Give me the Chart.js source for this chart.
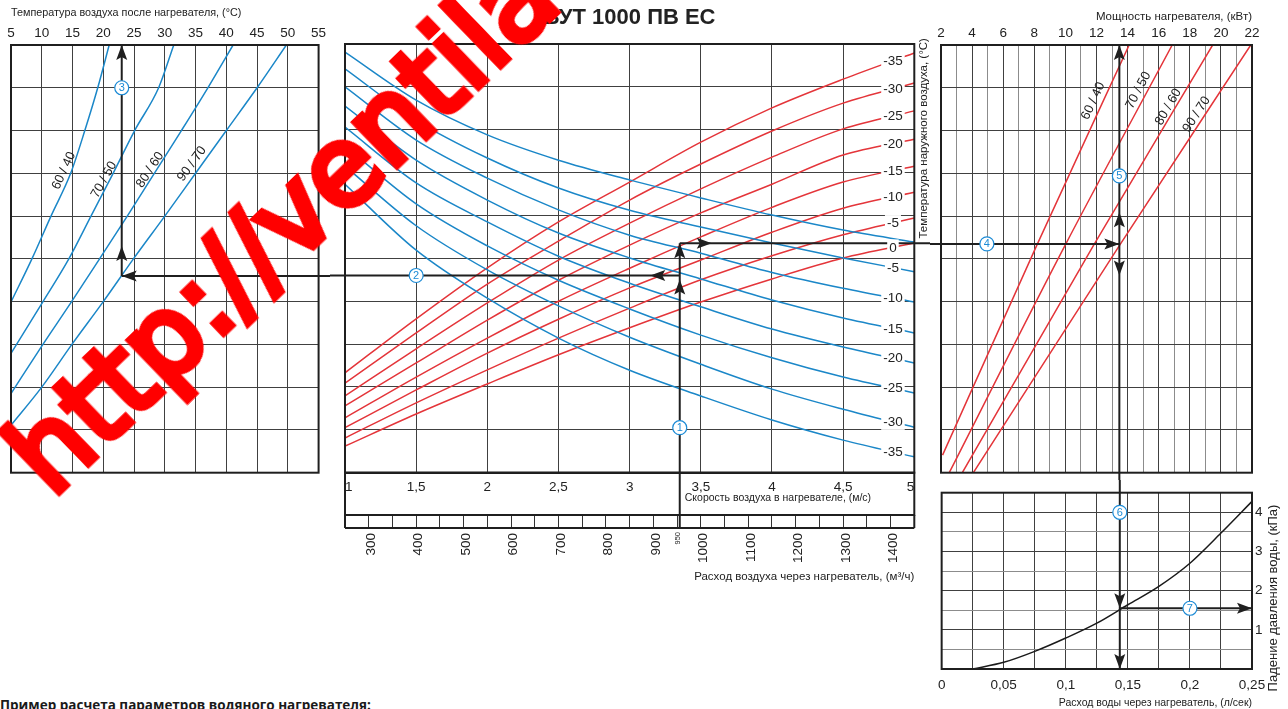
<!DOCTYPE html>
<html lang="ru">
<head>
<meta charset="utf-8">
<title>ВУТ 1000 ПВ ЕС</title>
<script src="https://cdn.jsdelivr.net/npm/chart.js"></script>
<style>
  html, body { margin:0; padding:0; background:#fff; }
  body { position:relative; width:1288px; height:709px; overflow:hidden; }
  canvas { position:absolute; display:block; }
  #panelAfter { left:0; top:0; }
  #panelMain { left:330px; top:0; }
  #panelPower { left:930px; top:0; }
  #panelPressure { left:930px; top:480px; }
  #note { position:absolute; left:0; top:696px; font:bold 13.5px 'Open Sans','DejaVu Sans',sans-serif; color:#1a1a1a; white-space:nowrap; }
  #watermark { position:absolute; left:52px; top:406px; font:110px 'DejaVu Sans',sans-serif; line-height:1; color:#ff0000;
               -webkit-text-stroke:7px #ff0000; white-space:nowrap; transform-origin:0 93px; transform:rotate(-44deg);
               pointer-events:none; z-index:5; }
</style>
</head>
<body>
<canvas id="panelAfter" width="330" height="480"></canvas>
<canvas id="panelMain" width="600" height="590"></canvas>
<canvas id="panelPower" width="358" height="480"></canvas>
<canvas id="panelPressure" width="358" height="229"></canvas>
<div id="note">Пример расчета параметров водяного нагревателя:</div>
<div id="watermark">http://ventila</div>
<script>
// ================= DATA =================
// Centre panel: air velocity (m/s) / airflow (m³/h); vertical = unlabelled nomogram rows 0..10
const velocityTicks  = [1, 1.5, 2, 2.5, 3, 3.5, 4, 4.5, 5];
const velocityPoints = [1, 1.5, 2, 2.5, 3, 3.5, 4, 4.5, 5];
const airflowTicks   = [300, 400, 500, 600, 700, 800, 900, 1000, 1100, 1200, 1300, 1400];
const airflowRange   = [245, 1444];

// Outside air temperature curves – red family (°C labels)
const redLabels = ['-35', '-30', '-25', '-20', '-15', '-10', '-5', '0'];
const red_m35 = [2.33, 3.59, 4.78, 5.85, 6.78, 7.71, 8.51, 9.18, 9.79];
const red_m30 = [2.09, 3.26, 4.40, 5.40, 6.36, 7.20, 7.97, 8.62, 9.09];
const red_m25 = [1.79, 2.89, 3.96, 4.96, 5.82, 6.62, 7.36, 8.02, 8.44];
const red_m20 = [1.56, 2.56, 3.56, 4.49, 5.31, 6.06, 6.73, 7.41, 7.78];
const red_m15 = [1.28, 2.23, 3.14, 4.00, 4.77, 5.50, 6.19, 6.78, 7.15];
const red_m10 = [1.05, 1.93, 2.79, 3.58, 4.31, 4.96, 5.61, 6.17, 6.54];
const red_m5  = [0.81, 1.63, 2.40, 3.14, 3.84, 4.50, 5.06, 5.55, 5.94];
const red_0   = [0.62, 1.37, 2.07, 2.75, 3.38, 3.98, 4.52, 5.01, 5.36];

// Outside air temperature curves – blue family
const blueLabels = ['0', '-5', '-10', '-15', '-20', '-25', '-30', '-35'];
const blue_0   = [9.81, 8.69, 7.88, 7.29, 6.83, 6.41, 6.01, 5.66, 5.38];
const blue_m5  = [9.42, 8.22, 7.34, 6.64, 6.12, 5.73, 5.36, 5.01, 4.69];
const blue_m10 = [9.00, 7.76, 6.87, 6.13, 5.54, 5.12, 4.67, 4.30, 3.98];
const blue_m15 = [8.55, 7.29, 6.36, 5.59, 5.01, 4.52, 4.03, 3.61, 3.26];
const blue_m20 = [8.06, 6.76, 5.85, 5.05, 4.42, 3.87, 3.35, 2.93, 2.56];
const blue_m25 = [7.62, 6.27, 5.29, 4.49, 3.82, 3.21, 2.68, 2.23, 1.86];
const blue_m30 = [7.15, 5.76, 4.73, 3.89, 3.16, 2.53, 1.95, 1.48, 1.06];
const blue_m35 = [6.73, 5.19, 4.07, 3.14, 2.39, 1.79, 1.23, 0.76, 0.37];

// Left panel: air temperature after heater (°C) per water regime
const afterTempTicks = [5, 10, 15, 20, 25, 30, 35, 40, 45, 50, 55];
const regimes = ['60 / 40', '70 / 50', '80 / 60', '90 / 70'];
const after6040_level = [3.99, 5, 6, 7, 8, 9, 10];
const after6040_temp  = [5.0, 8.4, 11.5, 14.7, 17.0, 19.1, 20.96];
const after7050_level = [2.79, 4, 5, 6, 7, 8, 9, 10];
const after7050_temp  = [5.0, 10.2, 14.4, 18.0, 21.6, 25.1, 29.0, 31.46];
const after8060_level = [1.85, 2.96, 4, 5, 6, 7, 8, 9, 10];
const after8060_temp  = [5.0, 10.0, 14.85, 19.4, 23.9, 28.3, 32.7, 37.0, 41.1];
const after9070_level = [1.11, 2, 3, 4, 5, 6, 7, 8, 9, 10];
const after9070_temp  = [5.0, 10.0, 14.9, 20.0, 24.9, 30.0, 35.0, 40.0, 45.0, 49.76];

// Right-top panel: heater power (kW) per water regime
const powerTicks = [2, 4, 6, 8, 10, 12, 14, 16, 18, 20, 22];
const power6040_level = [0.41, 5.31, 10];
const power6040_kw    = [2.1, 8.15, 14.1];
const power7050_level = [0, 5.31, 10];
const power7050_kw    = [2.53, 9.97, 16.87];
const power8060_level = [0, 5.31, 10];
const power8060_kw    = [3.37, 11.8, 19.47];
const power9070_level = [0, 5.31, 10];
const power9070_kw    = [4.08, 13.47, 21.92];

// Right-bottom panel: water pressure drop (kPa) vs water flow (l/s)
const waterFlowTicks = [0, 0.05, 0.1, 0.15, 0.2, 0.25];
const pressureTicks  = [1, 2, 3, 4];
const waterFlow    = [0.025, 0.05, 0.075, 0.1, 0.125, 0.15, 0.175, 0.2, 0.225, 0.25];
const pressureDrop = [0, 0.17, 0.45, 0.79, 1.17, 1.64, 2.11, 2.7, 3.47, 4.28];

// Worked example path
const exAirflow = 950, exLevelIn = 4.6, exLevelOut = 5.35, exTempAfter = 23;
const exPower = 13.47, exWaterFlow = 0.1435, exPressure = 1.55;

// ================= STYLE / HELPERS =================
const FONT = "'Liberation Sans', Arial, Helvetica, sans-serif";
Chart.defaults.font.family = FONT;
Chart.defaults.font.size = 13.5;
Chart.defaults.color = '#222';
const INK = '#1f1f1f', GRID = '#404040', GRID_LIGHT = '#8c8c8c';
const BLUE = '#1b87c8', RED = '#e4353a', MARK = '#1c8bd6';

const comma = v => String(Math.round(v * 1000) / 1000).replace('.', ',');
const pts = (xs, ys) => xs.map((x, i) => ({x: x, y: ys[i]}));
const near = (v, list) => list.some(t => Math.abs(t - v) < 1e-6);
function lineDS(xs, ys, color) {
  return {data: pts(xs, ys), borderColor: color, borderWidth: 1.5, pointRadius: 0, fill: false,
          cubicInterpolationMode: 'monotone', xAxisID: 'x', yAxisID: 'y'};
}
function interp(xs, ys, x) {
  for (let i = 0; i < xs.length - 1; i++) {
    if (x >= xs[i] && x <= xs[i + 1]) { const t = (x - xs[i]) / (xs[i + 1] - xs[i]); return ys[i] + t * (ys[i + 1] - ys[i]); }
  }
  return ys[ys.length - 1];
}
function seg(ctx, x1, y1, x2, y2, w, c) {
  ctx.save(); ctx.strokeStyle = c || INK; ctx.lineWidth = w || 2;
  ctx.beginPath(); ctx.moveTo(x1, y1); ctx.lineTo(x2, y2); ctx.stroke(); ctx.restore();
}
function head(ctx, x, y, dir) {
  const L = 15, H = 5.5;
  ctx.save(); ctx.fillStyle = INK; ctx.beginPath(); ctx.moveTo(x, y);
  if (dir === 'up') { ctx.lineTo(x - H, y + L); ctx.lineTo(x, y + L - 3); ctx.lineTo(x + H, y + L); }
  else if (dir === 'down') { ctx.lineTo(x - H, y - L); ctx.lineTo(x, y - L + 3); ctx.lineTo(x + H, y - L); }
  else if (dir === 'left') { ctx.lineTo(x + L, y - H); ctx.lineTo(x + L - 3, y); ctx.lineTo(x + L, y + H); }
  else { ctx.lineTo(x - L, y - H); ctx.lineTo(x - L + 3, y); ctx.lineTo(x - L, y + H); }
  ctx.closePath(); ctx.fill(); ctx.restore();
}
function badge(ctx, x, y, t) {
  ctx.save(); ctx.beginPath(); ctx.arc(x, y, 7, 0, Math.PI * 2);
  ctx.fillStyle = '#fff'; ctx.fill(); ctx.lineWidth = 1.2; ctx.strokeStyle = MARK; ctx.stroke();
  ctx.fillStyle = MARK; ctx.font = '11px ' + FONT; ctx.textAlign = 'center'; ctx.textBaseline = 'middle';
  ctx.fillText(t, x, y + 0.5); ctx.restore();
}
function frame(ctx, a) {
  ctx.save(); ctx.strokeStyle = INK; ctx.lineWidth = 2;
  ctx.strokeRect(a.left, a.top, a.right - a.left, a.bottom - a.top); ctx.restore();
}
function rotText(ctx, text, x, y, deg, font, align) {
  ctx.save(); ctx.translate(x, y); ctx.rotate(deg * Math.PI / 180);
  ctx.font = font; ctx.fillStyle = '#222'; ctx.textAlign = align || 'center'; ctx.textBaseline = 'middle';
  ctx.fillText(text, 0, 0); ctx.restore();
}
function boxedLabel(ctx, text, x, y) {
  ctx.save(); ctx.font = '13.5px ' + FONT;
  const w = ctx.measureText(text).width;
  ctx.fillStyle = '#fff'; ctx.fillRect(x - w / 2 - 2, y - 8, w + 4, 16);
  ctx.fillStyle = '#222'; ctx.textAlign = 'center'; ctx.textBaseline = 'middle';
  ctx.fillText(text, x, y + 0.5); ctx.restore();
}
const common = {
  responsive: false, animation: false, events: [],
  plugins: {legend: {display: false}, tooltip: {enabled: false}}
};
const hiddenLevelAxis = (min, max, step) => ({
  type: 'linear', min: min, max: max,
  ticks: {display: false, stepSize: step},
  grid: {color: GRID, lineWidth: 1, drawTicks: false},
  border: {display: false},
  afterFit: s => { s.width = 0; }
});

// ================= LEFT PANEL =================
new Chart(document.getElementById('panelAfter'), {
  type: 'line',
  data: {datasets: [
    lineDS(after6040_temp, after6040_level, BLUE),
    lineDS(after7050_temp, after7050_level, BLUE),
    lineDS(after8060_temp, after8060_level, BLUE),
    lineDS(after9070_temp, after9070_level, BLUE)
  ]},
  options: Object.assign({}, common, {
    layout: {padding: {left: 11, right: 11, top: 0, bottom: 7.3}},
    scales: {
      x: {type: 'linear', position: 'top', min: afterTempTicks[0], max: afterTempTicks[afterTempTicks.length - 1],
          ticks: {stepSize: 5, padding: 3.9, callback: v => near(v, afterTempTicks) ? String(v) : ''},
          grid: {color: GRID, lineWidth: 1, drawTicks: false}, border: {display: false},
          title: {display: true, text: 'Температура воздуха после нагревателя, (°C)', align: 'start',
                  font: {family: FONT, size: 10.8}, color: '#222', padding: {top: 6.5, bottom: 0}},
          afterFit: s => { s.height = 45; }},
      y: hiddenLevelAxis(0, 10, 1)
    }
  }),
  plugins: [{
    id: 'afterDecor',
    afterDatasetsDraw(chart) {
      const {ctx, chartArea: a, scales: {x, y}} = chart;
      const labelPos = [[13.6, 7.06, -65], [20.1, 6.85, -61], [27.6, 7.08, -57], [34.4, 7.22, -54]];
      regimes.forEach((r, i) => rotText(ctx, r, x.getPixelForValue(labelPos[i][0]), y.getPixelForValue(labelPos[i][1]), labelPos[i][2], '13px ' + FONT));
      const xa = x.getPixelForValue(exTempAfter), yIn = y.getPixelForValue(exLevelIn);
      seg(ctx, chart.width, yIn, xa, yIn);
      seg(ctx, xa, yIn, xa, a.top);
      head(ctx, xa, yIn, 'left');
      head(ctx, xa, y.getPixelForValue(5.3), 'up');
      head(ctx, xa, a.top, 'up');
      frame(ctx, a);
      badge(ctx, xa, y.getPixelForValue(9), '3');
    }
  }]
});

// ================= CENTRE PANEL =================
const redSeries  = [red_m35, red_m30, red_m25, red_m20, red_m15, red_m10, red_m5, red_0];
const blueSeries = [blue_0, blue_m5, blue_m10, blue_m15, blue_m20, blue_m25, blue_m30, blue_m35];
new Chart(document.getElementById('panelMain'), {
  type: 'line',
  data: {datasets: [
    ...blueSeries.map(s => lineDS(velocityPoints, s, BLUE)),
    ...redSeries.map(s => lineDS(velocityPoints, s, RED))
  ]},
  options: Object.assign({}, common, {
    layout: {padding: {left: 15, right: 15.7, top: 0, bottom: 0}},
    plugins: {legend: {display: false}, tooltip: {enabled: false},
      title: {display: true, text: 'ВУТ 1000 ПВ ЕС', color: '#222',
              font: {family: FONT, size: 22, weight: 'bold'}, padding: {top: 5, bottom: 12.6}}},
    scales: {
      x: {type: 'linear', position: 'bottom', weight: 0, min: 1, max: 5,
          ticks: {stepSize: 0.5, align: 'inner', padding: 6.2, callback: v => near(v, velocityTicks) ? comma(v) : ''},
          grid: {color: GRID, lineWidth: 1, drawTicks: false},
          border: {display: true, color: INK, width: 2},
          afterFit: s => { s.height = 42.3; }},
      airflow: {type: 'linear', axis: 'x', position: 'bottom', weight: 1, min: airflowRange[0], max: airflowRange[1],
          ticks: {stepSize: 50, autoSkip: false, includeBounds: false, maxRotation: 0, padding: 5, callback: () => ''},
          grid: {drawOnChartArea: false, drawTicks: true, tickLength: 13, color: '#333', lineWidth: 1},
          border: {display: true, color: INK, width: 2},
          title: {display: true, text: 'Расход воздуха через нагреватель, (м³/ч)', align: 'end',
                  font: {family: FONT, size: 11.5}, color: '#222', padding: {top: 0, bottom: 5.8}},
          afterFit: s => { s.height = 75; }},
      y: hiddenLevelAxis(0, 10, 1)
    }
  }),
  plugins: [{
    id: 'mainDecor',
    afterDatasetsDraw(chart) {
      const {ctx, chartArea: a, scales: {x, y, airflow}} = chart;
      const xe = airflow.getPixelForValue(exAirflow);
      const yIn = y.getPixelForValue(exLevelIn), yOut = y.getPixelForValue(exLevelOut);
      const stripBottom = airflow.top + 13;
      // example path
      seg(ctx, xe, stripBottom, xe, yOut);
      seg(ctx, xe, yIn, 0, yIn);
      seg(ctx, xe, yOut, chart.width, yOut);
      head(ctx, xe, yIn + 4, 'up');
      head(ctx, xe, yOut, 'up');
      head(ctx, xe - 29.5, yIn, 'left');
      head(ctx, xe + 32, yOut, 'right');
      // curve labels (outside air temperature)
      const vl = 4.85, xl = x.getPixelForValue(vl);
      redSeries.forEach((s, i) => boxedLabel(ctx, redLabels[i], xl, y.getPixelForValue(interp(velocityPoints, s, vl))));
      blueSeries.forEach((s, i) => { if (i > 0) boxedLabel(ctx, blueLabels[i], xl, y.getPixelForValue(interp(velocityPoints, s, vl))); });
      // frames
      frame(ctx, a);
      ctx.save(); ctx.strokeStyle = INK; ctx.lineWidth = 2;
      ctx.strokeRect(a.left, a.bottom, a.right - a.left, x.bottom - a.bottom);
      ctx.beginPath(); ctx.moveTo(a.left, stripBottom); ctx.lineTo(a.right, stripBottom);
      ctx.moveTo(a.left, x.bottom); ctx.lineTo(a.left, stripBottom);
      ctx.moveTo(a.right, x.bottom); ctx.lineTo(a.right, stripBottom); ctx.stroke(); ctx.restore();
      // airflow tick labels (rotated, reading upwards)
      airflowTicks.forEach(v => rotText(ctx, String(v), airflow.getPixelForValue(v), stripBottom + 5, -90, '13.5px ' + FONT, 'right'));
      // texts
      ctx.save(); ctx.font = '10.5px ' + FONT; ctx.fillStyle = '#222'; ctx.textAlign = 'left'; ctx.textBaseline = 'middle';
      ctx.fillText('Скорость воздуха в нагревателе, (м/с)', xe + 5, x.top + 25.5); ctx.restore();
      rotText(ctx, String(exAirflow), xe - 2, stripBottom + 4, -90, '7.5px ' + FONT, 'right');
      rotText(ctx, 'Температура наружного воздуха, (°C)', a.right + 10, y.getPixelForValue(7.8), -90, '11.5px ' + FONT);
      badge(ctx, xe, y.getPixelForValue(1.05), '1');
      badge(ctx, x.getPixelForValue(1.5), yIn, '2');
    }
  }]
});

// ================= RIGHT-TOP PANEL (power) =================
new Chart(document.getElementById('panelPower'), {
  type: 'line',
  data: {datasets: [
    lineDS(power6040_kw, power6040_level, RED),
    lineDS(power7050_kw, power7050_level, RED),
    lineDS(power8060_kw, power8060_level, RED),
    lineDS(power9070_kw, power9070_level, RED)
  ]},
  options: Object.assign({}, common, {
    layout: {padding: {left: 11, right: 36, top: 0, bottom: 7.3}},
    scales: {
      x: {type: 'linear', position: 'top', min: powerTicks[0], max: powerTicks[powerTicks.length - 1],
          ticks: {stepSize: 1, autoSkip: false, padding: 3.9, maxRotation: 0, callback: v => near(v, powerTicks) ? String(v) : ''},
          grid: {color: c => (Math.round(c.tick.value) % 2 === 0 ? GRID : GRID_LIGHT), lineWidth: 1, drawTicks: false},
          border: {display: false},
          title: {display: true, text: 'Мощность нагревателя, (кВт)', align: 'end',
                  font: {family: FONT, size: 11.5}, color: '#222', padding: {top: 9.8, bottom: 0}},
          afterFit: s => { s.height = 45; }},
      y: hiddenLevelAxis(0, 10, 1)
    }
  }),
  plugins: [{
    id: 'powerDecor',
    afterDatasetsDraw(chart) {
      const {ctx, chartArea: a, scales: {x, y}} = chart;
      const labelPos = [[11.79, 8.69, -65], [14.69, 8.94, -62], [16.62, 8.55, -60], [18.44, 8.38, -57]];
      regimes.forEach((r, i) => rotText(ctx, r, x.getPixelForValue(labelPos[i][0]), y.getPixelForValue(labelPos[i][1]), labelPos[i][2], '13px ' + FONT));
      const xp = x.getPixelForValue(exPower), yOut = y.getPixelForValue(exLevelOut);
      seg(ctx, 0, yOut, xp, yOut);
      seg(ctx, xp, a.top, xp, chart.height);
      head(ctx, xp, yOut, 'right');
      head(ctx, xp, a.top, 'up');
      head(ctx, xp, yOut - 31.6, 'up');
      head(ctx, xp, yOut + 31.7, 'down');
      frame(ctx, a);
      badge(ctx, x.getPixelForValue(4.95), yOut, '4');
      badge(ctx, xp, y.getPixelForValue(6.94), '5');
    }
  }]
});

// ================= RIGHT-BOTTOM PANEL (pressure drop) =================
new Chart(document.getElementById('panelPressure'), {
  type: 'line',
  data: {datasets: [lineDS(waterFlow, pressureDrop, '#1a1a1a')]},
  options: Object.assign({}, common, {
    layout: {padding: {left: 11, right: 0, top: 12.7, bottom: 0}},
    scales: {
      x: {type: 'linear', position: 'bottom', min: 0, max: 0.25,
          ticks: {stepSize: 0.025, autoSkip: false, maxRotation: 0, padding: 7.9, callback: v => near(v, waterFlowTicks) ? comma(v) : ''},
          grid: {color: GRID, lineWidth: 1, drawTicks: false}, border: {display: false},
          title: {display: true, text: 'Расход воды через нагреватель, (л/сек)', align: 'end',
                  font: {family: FONT, size: 10.5}, color: '#222', padding: {top: 0, bottom: 0}},
          afterFit: s => { s.height = 40; }},
      y: {type: 'linear', position: 'right', min: 0, max: 4.5,
          ticks: {stepSize: 0.5, padding: 3, callback: v => near(v, pressureTicks) ? String(v) : ''},
          grid: {color: c => (Math.abs(c.tick.value - Math.round(c.tick.value)) < 1e-6 ? GRID : GRID_LIGHT), lineWidth: 1, drawTicks: false},
          border: {display: false},
          afterFit: s => { s.width = 36; }}
    }
  }),
  plugins: [{
    id: 'pressureDecor',
    afterDatasetsDraw(chart) {
      const {ctx, chartArea: a, scales: {x, y}} = chart;
      const xw = x.getPixelForValue(exWaterFlow), yp = y.getPixelForValue(exPressure);
      seg(ctx, xw, 0, xw, a.bottom);
      seg(ctx, xw, yp, a.right, yp);
      head(ctx, xw, yp, 'down');
      head(ctx, xw, a.bottom, 'down');
      head(ctx, a.right, yp, 'right');
      frame(ctx, a);
      rotText(ctx, 'Падение давления воды, (кПа)', a.right + 21, a.bottom - 71, -90, '13px ' + FONT);
      badge(ctx, xw, y.getPixelForValue(4), '6');
      badge(ctx, x.getPixelForValue(0.2), yp, '7');
    }
  }]
});
</script>
</body>
</html>
